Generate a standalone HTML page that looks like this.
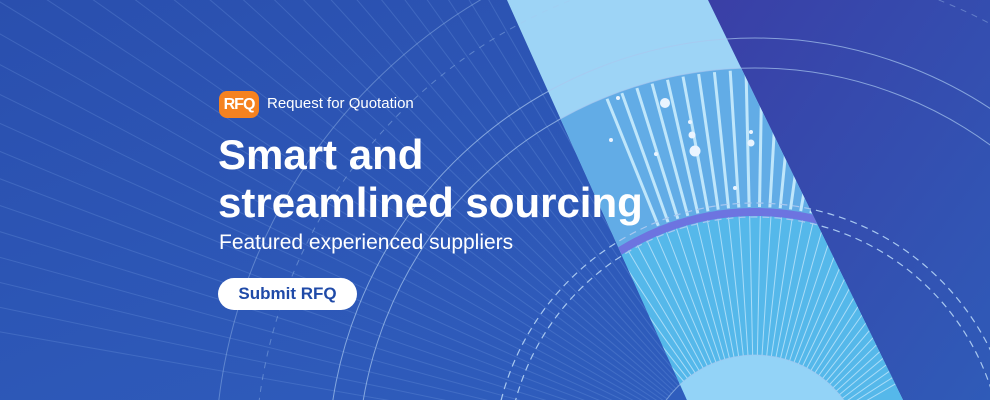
<!DOCTYPE html>
<html><head><meta charset="utf-8"><style>
html,body{margin:0;padding:0;}
body{width:990px;height:400px;overflow:hidden;position:relative;font-family:"Liberation Sans",sans-serif;}
svg{position:absolute;left:0;top:0;overflow:hidden;}
.t{position:absolute;color:#fff;white-space:nowrap;}
</style></head><body>
<svg width="990" height="400">
<defs>
<linearGradient id="bg" x1="0" y1="0" x2="1" y2="1">
<stop offset="0" stop-color="#2a4fae"/><stop offset="1" stop-color="#3060c0"/></linearGradient>
<linearGradient id="rt" x1="0" y1="0" x2="1" y2="1">
<stop offset="0" stop-color="#3a3fa6"/><stop offset="1" stop-color="#2f5bb8"/></linearGradient>
<clipPath id="beam"><polygon points="507,0 708,0 903,400 687,400"/></clipPath>
</defs>
<rect width="990" height="400" fill="url(#bg)"/>
<polygon points="708,0 990,0 990,400 903,400" fill="url(#rt)"/>
<g id="rays" stroke="#7aa3e6" stroke-width="1" opacity="0.25"></g>
<g clip-path="url(#beam)">
<rect x="480" y="0" width="450" height="400" fill="#9dd4f6"/>
<circle cx="755" cy="465" r="397" fill="#62ace6"/>
<circle cx="755" cy="465" r="253" fill="#55b8ea"/>
<g id="beamrays" stroke="#a9dcf8" stroke-width="1"></g>
<circle cx="755" cy="465" r="110" fill="#93d3f7"/>
<circle cx="755" cy="465" r="253" fill="none" stroke="#6d74e0" stroke-width="8"/>
</g>
<circle cx="755" cy="465" r="427" fill="none" stroke="#a8c8f0" stroke-width="1" opacity="0.7"/>
<circle cx="755" cy="465" r="397" fill="none" stroke="#a8c8f0" stroke-width="1" opacity="0.7"/>
<circle cx="755" cy="465" r="262" fill="none" stroke="#a8c8f0" stroke-width="1.2" stroke-dasharray="7 5"/>
<circle cx="755" cy="465" r="248" fill="none" stroke="#a8c8f0" stroke-width="1.2" stroke-dasharray="7 5"/>
<circle cx="755" cy="465" r="110" fill="none" stroke="#a8c8f0" stroke-width="1" opacity="0.6"/>
<circle cx="755" cy="465" r="540" fill="none" stroke="#a8c8f0" stroke-width="1" opacity="0.4"/>
<circle cx="755" cy="465" r="500" fill="none" stroke="#a8c8f0" stroke-width="1" stroke-dasharray="6 6" opacity="0.4"/>
<g fill="#eaf4ff">
<circle cx="665" cy="103" r="5"/><circle cx="692" cy="135" r="3.5"/><circle cx="695" cy="151" r="5.5"/>
<circle cx="751" cy="143" r="3.5"/><circle cx="751" cy="132" r="2"/><circle cx="690" cy="122" r="2"/>
<circle cx="618" cy="98" r="2"/><circle cx="611" cy="140" r="2"/><circle cx="656" cy="154" r="2"/><circle cx="735" cy="188" r="2"/>
</g>
</svg>
<div class="t" style="left:219px;top:91px;width:40px;height:27px;background:#f58220;border-radius:8px;font-weight:bold;font-size:16px;line-height:27px;text-align:center;letter-spacing:-1px;">RFQ</div>
<div class="t" style="left:267px;top:95px;font-size:15px;">Request for Quotation</div>
<div class="t" style="left:218px;top:131px;font-size:42px;font-weight:bold;line-height:48px;">Smart and<br>streamlined sourcing</div>
<div class="t" style="left:219px;top:231px;font-size:21px;">Featured experienced suppliers</div>
<div class="t" style="left:218px;top:278px;width:139px;height:32px;background:#fff;border-radius:16px;color:#1f4aa8;font-weight:bold;font-size:17px;line-height:32px;text-align:center;">Submit RFQ</div>
<script>
const cx=755,cy=465;
function rays(id,n,a0,a1,r0,r1){const g=document.getElementById(id);for(let i=0;i<n;i++){const a=(a0+(a1-a0)*i/(n-1))*Math.PI/180;const l=document.createElementNS('http://www.w3.org/2000/svg','line');l.setAttribute('x1',cx+r0*Math.cos(a));l.setAttribute('y1',cy+r0*Math.sin(a));l.setAttribute('x2',cx+r1*Math.cos(a));l.setAttribute('y2',cy+r1*Math.sin(a));


g.appendChild(l);}}
rays('rays',30,-170,-118,110,900);
rays('beamrays',50,-150,-30,110,253);
const g2=document.getElementById('beamrays');
for(let i=0;i<22;i++){const a=(-112+i*2.3)*Math.PI/180;const l=document.createElementNS('http://www.w3.org/2000/svg','line');l.setAttribute('x1',cx+258*Math.cos(a));l.setAttribute('y1',cy+258*Math.sin(a));l.setAttribute('x2',cx+395*Math.cos(a));l.setAttribute('y2',cy+395*Math.sin(a));l.setAttribute('stroke-width','3');l.setAttribute('stroke','#bfe6fb');


g2.appendChild(l);}
</script>
</body></html>
